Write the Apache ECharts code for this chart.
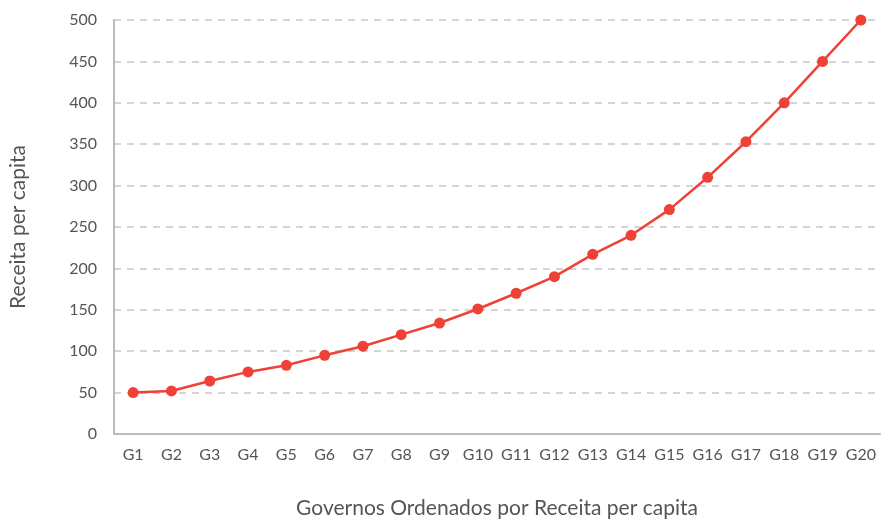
<!DOCTYPE html>
<html>
<head>
<meta charset="utf-8">
<script src="https://cdn.jsdelivr.net/npm/echarts@6/dist/echarts.min.js"></script>
<style>
  html, body { margin: 0; padding: 0; background: #fff; }
  #chart { width: 881px; height: 521px; }
</style>
</head>
<body>
<div id="chart"></div>
<script>
var categories = ['G1', 'G2', 'G3', 'G4', 'G5', 'G6', 'G7', 'G8', 'G9', 'G10',
  'G11', 'G12', 'G13', 'G14', 'G15', 'G16', 'G17', 'G18', 'G19', 'G20'];
var receita = [50, 52, 64, 75, 83, 95, 106, 120, 134, 151,
  170, 190, 217, 240, 271, 310, 353, 400, 450, 500];

var fontName = 'Lato';
var chart = echarts.init(document.getElementById('chart'));

chart.setOption({
  backgroundColor: '#fff',
  animation: false,
  grid: {
    left: 114,
    right: 1,
    top: 20,
    bottom: 87,
    containLabel: false,
    outerBoundsMode: 'none'
  },
  xAxis: {
    type: 'category',
    data: categories,
    boundaryGap: true,
    name: 'Governos Ordenados por Receita per capita',
    nameLocation: 'middle',
    nameGap: 64,
    nameTextStyle: { fontFamily: fontName, fontSize: 21, color: '#555' },
    axisLine: { lineStyle: { color: '#bbbbbb', width: 2 } },
    axisTick: { show: false },
    axisLabel: { fontFamily: fontName, fontSize: 16, color: '#555', margin: 13, interval: 0 },
    splitLine: { show: false }
  },
  yAxis: {
    type: 'value',
    min: 0,
    max: 500,
    interval: 50,
    name: 'Receita per capita',
    nameLocation: 'middle',
    nameGap: 85,
    nameTextStyle: { fontFamily: fontName, fontSize: 21, color: '#555' },
    axisLine: { show: true, lineStyle: { color: '#bbbbbb', width: 2 } },
    axisTick: { show: false },
    axisLabel: { fontFamily: fontName, fontSize: 16, color: '#555', margin: 17 },
    splitLine: {
      show: true,
      lineStyle: { color: '#c8c8c8', width: 1.5, type: [7, 6] }
    }
  },
  series: [{
    type: 'line',
    data: receita,
    symbol: 'circle',
    symbolSize: 11,
    lineStyle: { color: '#ef4136', width: 2.5 },
    itemStyle: { color: '#ef4136' }
  }]
});
</script>
</body>
</html>
